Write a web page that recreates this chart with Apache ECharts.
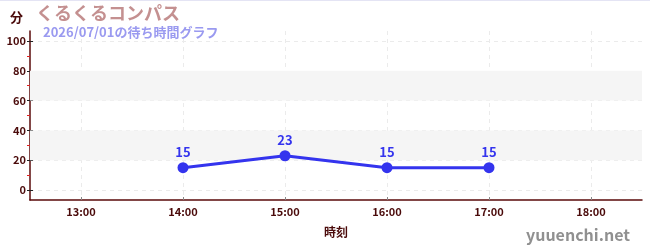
<!DOCTYPE html>
<html><head><meta charset="utf-8">
<script src="https://cdn.jsdelivr.net/npm/echarts@6/dist/echarts.min.js"></script>
<style>html,body{margin:0;padding:0;background:#fff;}#c{width:650px;height:250px;border-top:1px solid #e4e4f4;box-sizing:border-box;}</style>
</head><body><div id="c"></div>
<script>
const categories = ['13:00','14:00','15:00','16:00','17:00','18:00'];
const waitMinutes = [null, 15, 23, 15, 15, null];
const yTicks = [0, 20, 40, 60, 80, 100];
const yMinorTicks = [10, 30, 50, 70, 90];
const bands = [[20, 40], [60, 80]];
const titleText = 'くるくるコンパス';
const subText = '2026/07/01の待ち時間グラフ';

const font = '"Noto Sans CJK JP", "Noto Sans", sans-serif';
const axisColor = '#5a0a0a';
const labelColor = '#4a0a0a';
const yMin = -20/3, yMax = 320/3;
const catIdx = categories.map((c, i) => i);

const chart = echarts.init(document.getElementById('c'));
chart.setOption({
  animation: false,
  textStyle: { fontFamily: font },
  title: [
    { text: titleText, left: 31, top: -2, textStyle: { fontSize: 18, fontWeight: 'bold', color: '#c49090', fontFamily: font } },
    { text: subText, left: 38, top: 20, textStyle: { fontSize: 13, fontWeight: 'bold', color: '#9a9af0', fontFamily: font } },
    { text: 'yuuenchi.net', right: 15, top: 221, textStyle: { fontSize: 16, fontWeight: 'bold', color: '#909090', fontFamily: font } }
  ],
  grid: { left: 30, right: 8, top: 30, bottom: 50 },
  xAxis: [
    {
      type: 'category', data: categories, boundaryGap: true,
      name: '時刻', nameLocation: 'middle', nameGap: 26,
      nameTextStyle: { color: labelColor, fontSize: 12, fontWeight: 'bold' },
      axisLine: { onZero: false, lineStyle: { color: axisColor, width: 1.5 } },
      axisTick: { show: false },
      axisLabel: { color: labelColor, fontSize: 11, fontWeight: 'bold', margin: 6 },
      splitLine: { show: false }
    },
    {
      type: 'value', min: -0.5, max: categories.length - 0.5, position: 'bottom',
      axisLine: { show: false, onZero: false },
      axisLabel: { show: false },
      axisTick: { show: true, inside: true, length: 3, customValues: catIdx, lineStyle: { color: '#888' } },
      splitLine: { show: true, lineStyle: { color: '#ebebeb', type: [4, 4] } }
    }
  ],
  yAxis: [
    {
      type: 'value', min: yMin, max: yMax,
      name: '分', nameLocation: 'end', nameGap: 7,
      nameTextStyle: { color: labelColor, fontSize: 13, fontWeight: 'bold', align: 'right', padding: [0, 7, 0, 0] },
      axisLine: { show: true, onZero: false, lineStyle: { color: axisColor, width: 1.5 } },
      axisTick: { show: true, length: 3, customValues: yTicks, lineStyle: { color: '#222' } },
      axisLabel: { color: labelColor, fontSize: 11, fontWeight: 'bold', margin: 4, customValues: yTicks },
      splitLine: { show: true, lineStyle: { color: '#ebebeb', type: [4, 4] } }
    },
    {
      type: 'value', min: yMin, max: yMax, position: 'left', offset: 0,
      axisLine: { show: false, onZero: false },
      axisTick: { show: true, inside: true, length: 3, customValues: yTicks, lineStyle: { color: '#222' } },
      axisLabel: { show: false }, splitLine: { show: false }
    },
    {
      type: 'value', min: yMin, max: yMax, position: 'left', offset: 0,
      axisLine: { show: false, onZero: false },
      axisTick: { show: true, length: 3, customValues: yMinorTicks, lineStyle: { color: '#e02020' } },
      axisLabel: { show: false }, splitLine: { show: false }
    }
  ],
  series: [{
    type: 'line', data: waitMinutes, xAxisIndex: 0, yAxisIndex: 0,
    symbol: 'circle', symbolSize: 11,
    lineStyle: { color: '#3434ee', width: 3 },
    itemStyle: { color: '#3434ee' },
    label: { show: true, position: 'top', color: '#3434ee', fontSize: 13, fontWeight: 'bold', distance: 4 },
    markArea: {
      silent: true,
      itemStyle: { color: '#f5f5f5' },
      data: bands.map(b => [{ yAxis: b[0] }, { yAxis: b[1] }])
    },
    z: 5
  }]
});
</script></body></html>
